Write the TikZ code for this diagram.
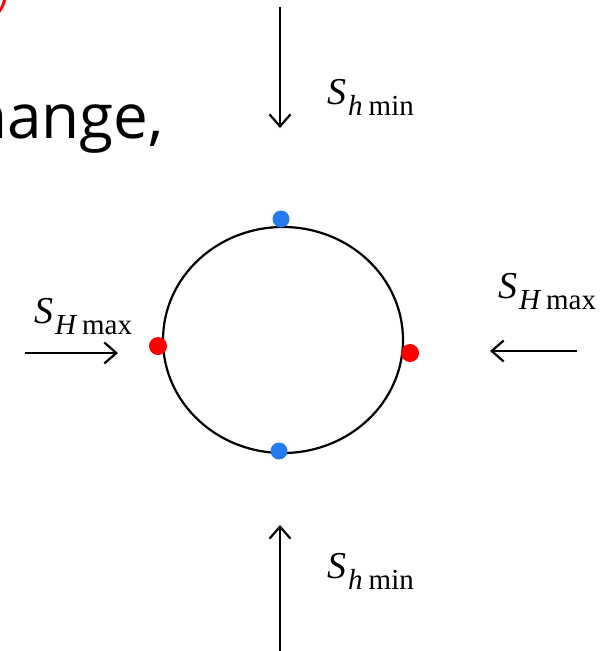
\documentclass[tikz,border=0pt]{standalone}
\usepackage{fontspec}
\setmainfont{Liberation Serif}
\newfontfamily\uisans{Open Sans}
\usetikzlibrary{arrows.meta,shapes.geometric}
\tikzset{
  stressarrow/.style={line width=2.2pt, -{Straight Barb[length=12pt,width=21pt,line width=2.2pt]}},
  reddot/.style={circle, fill={rgb,255:red,255;green,0;blue,0}, draw=none, minimum size=18pt, inner sep=0pt},
  bluedot/.style={circle, fill={rgb,255:red,38;green,122;blue,240}, draw=none, minimum size=17pt, inner sep=0pt},
  slab/.style={anchor=base west, inner sep=0pt}
}
\newcommand{\Smain}{{\fontsize{38}{38}\selectfont\itshape S}}
\newcommand{\Ssub}[2]{\hspace{2pt}\raisebox{-11pt}{\fontsize{29}{29}\selectfont\itshape #1\hspace{6pt}\upshape #2}}
\begin{document}
\begin{tikzpicture}[x=1pt,y=-1pt]
\useasboundingbox (0,0) rectangle (606,651);
\clip (0,0) rectangle (606,651);
% partial text at the top left
\node[anchor=base east, inner sep=0pt, font=\uisans\fontsize{62}{62}\selectfont] (word) at (164,138) {change,};
\node[anchor=base east, inner sep=0pt, text=red, font=\uisans\itshape\fontsize{40}{40}\selectfont] (paren) at (9,10) {)};
% circle
\node[draw, ellipse, line width=2.2pt, minimum width=240pt, minimum height=226pt, inner sep=0pt] (hole) at (283,340) {};
% dots
\node[bluedot] (btop) at (281,219) {};
\node[bluedot] (bbot) at (279,451) {};
\node[reddot] (rleft) at (158,346) {};
\node[reddot] (rright) at (410,353) {};
% arrow ends
\coordinate (t0) at (280,7);
\coordinate (t1) at (280,128);
\coordinate (b0) at (280,651);
\coordinate (b1) at (280,525);
\coordinate (l0) at (25,353);
\coordinate (l1) at (118,353);
\coordinate (r0) at (577,351);
\coordinate (r1) at (490,351);
\draw[stressarrow] (t0) -- (t1);
\draw[stressarrow] (b0) -- (b1);
\draw[stressarrow] (l0) -- (l1);
\draw[stressarrow] (r0) -- (r1);
% labels
\node[slab] (lt) at (327,104) {\Smain\Ssub{h}{min}};
\node[slab] (lb) at (327,578) {\Smain\Ssub{h}{min}};
\node[slab] (ll) at (34,323) {\Smain\Ssub{H}{max}};
\node[slab] (lr) at (498,298) {\Smain\Ssub{H}{max}};
\end{tikzpicture}
\end{document}
